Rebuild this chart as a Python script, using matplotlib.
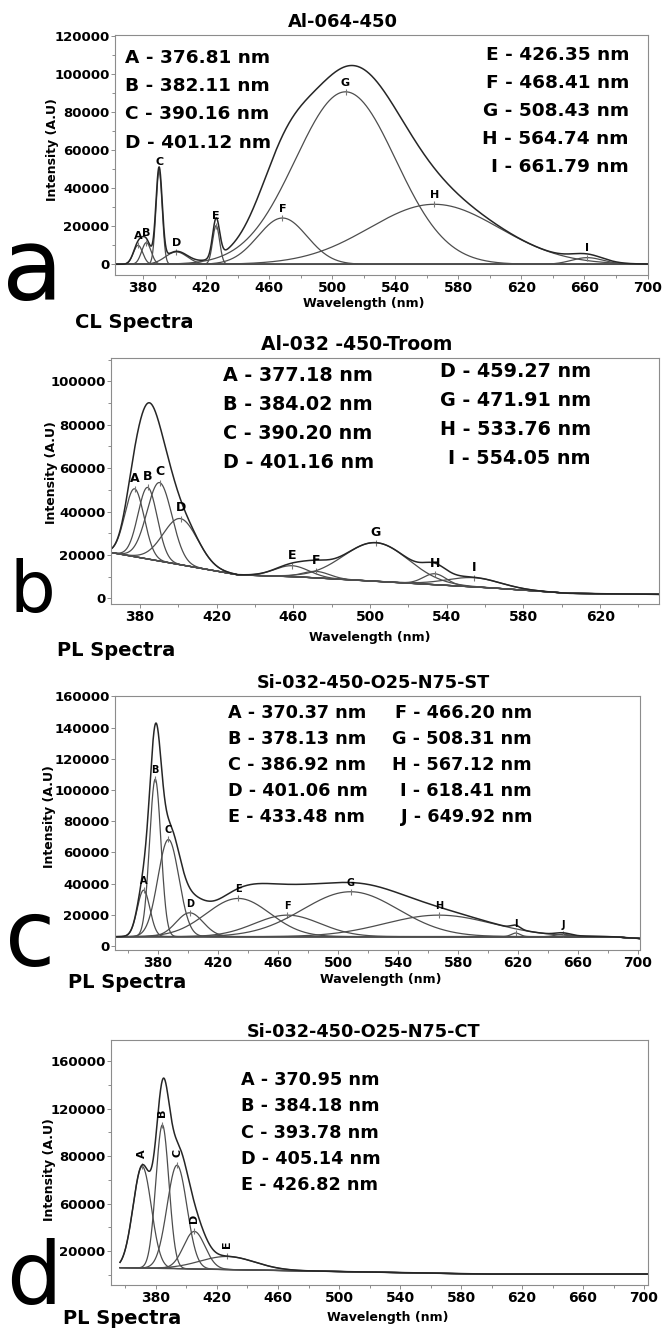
import matplotlib

matplotlib.use("Agg")
import matplotlib.pyplot as plt
import numpy as np
from matplotlib.ticker import FixedFormatter, FixedLocator, MultipleLocator

plt.rcParams["font.family"] = ["DejaVu Sans"]
plt.rcParams["font.weight"] = "bold"

W, H = 664, 1328

# ---- panel a : CL spectrum, Al-064-450
a_letters = list("ABCDEFGHI")
a_centers = [376.81, 382.11, 390.16, 401.12, 426.35, 468.41, 508.43, 564.74, 661.79]
a_heights = [10000, 11400, 48800, 6500, 20300, 24300, 90500, 31500, 3500]
a_fwhm = [7.0, 7.0, 4.7, 16.5, 5.2, 36.7, 75.0, 97.0, 23.5]
a_base_x = [362.2, 700.3]
a_base_y = [0, 0]
a_list_left = ["A - 376.81 nm", "B - 382.11 nm", "C - 390.16 nm", "D - 401.12 nm"]
a_list_right = ["E - 426.35 nm", "F - 468.41 nm", "G - 508.43 nm", "H - 564.74 nm", "I - 661.79 nm"]

# ---- panel b : PL spectrum, Al-032-450-Troom
b_letters = list("ABCDEFGHI")
b_centers = [377.18, 384.02, 390.20, 401.16, 459.27, 471.91, 503.0, 533.76, 554.05]
b_heights = [31300, 33000, 36200, 21300, 5000, 3000, 17800, 5000, 4200]
b_fwhm = [11.8, 11.8, 15.3, 21.2, 21.2, 16.5, 40.0, 14.1, 33.0]
b_base_x = [364.9, 431, 460, 520, 560, 603, 650.7]
b_base_y = [21100, 10800, 10000, 7000, 5000, 2300, 1800]
b_list_left = ["A - 377.18 nm", "B - 384.02 nm", "C - 390.20 nm", "D - 401.16 nm"]
b_list_right = ["D - 459.27 nm", "G - 471.91 nm", "H - 533.76 nm", "I - 554.05 nm"]

# ---- panel c : PL spectrum, Si-032-450-O25-N75-ST
c_letters = list("ABCDEFGHIJ")
c_centers = [370.37, 378.13, 386.92, 401.06, 433.48, 466.20, 508.31, 567.12, 618.41, 649.92]
c_heights = [29800, 101000, 62300, 15300, 24500, 13800, 28800, 13800, 2300, 1500]
c_fwhm = [9.9, 8.9, 16.5, 21.2, 50.0, 51.8, 75.0, 84.8, 7.1, 11.8]
c_base_x = [351.3, 681, 701.3]
c_base_y = [6000, 6000, 4800]
c_list_left = ["A - 370.37 nm", "B - 378.13 nm", "C - 386.92 nm", "D - 401.06 nm", "E - 433.48 nm"]
c_list_right = ["F - 466.20 nm", "G - 508.31 nm", "H - 567.12 nm", "I - 618.41 nm", "J - 649.92 nm"]

# ---- panel d : PL spectrum, Si-032-450-O25-N75-CT
d_letters = list("ABCDE")
d_centers = [370.95, 384.18, 393.78, 405.14, 426.82]
d_heights = [85600, 120800, 87100, 31600, 11000]
d_fwhm = [14.1, 10.1, 15.3, 16.5, 42.4]
d_base_x = [356.4, 543, 592, 702.6]
d_base_y = [-14000, -18200, -19400, -19400]
d_list = ["A - 370.95 nm", "B - 384.18 nm", "C - 393.78 nm", "D - 405.14 nm", "E - 426.82 nm"]
d_ytick_pos = [160000, 120000, 80000, 40000, 0]
d_ytick_labels = ["160000", "120000", "80000", "60000", "20000"]

LINE = "#262626"
COMP = "#4d4d4d"
FRAME = "#8c8c8c"


def gauss(x, center, height, fwhm):
    sigma = fwhm / 2.3548
    return height * np.exp(-((x - center) ** 2) / (2 * sigma ** 2))


def add_axes_px(fig, left, top, right, bottom):
    return fig.add_axes([left / W, 1 - bottom / H, (right - left) / W, (bottom - top) / H])


def fig_text(fig, x, y, s, **kw):
    fig.text(x / W, 1 - y / H, s, **kw)


def draw_panel(ax, base_x, base_y, centers, heights, fwhm, letters, label_size=8, rotate=False):
    x = np.linspace(base_x[0], base_x[-1], 4000)
    base = np.interp(x, base_x, base_y)
    total = base.copy()
    for c, h, w, letter in zip(centers, heights, fwhm, letters):
        g = gauss(x, c, h, w)
        total += g
        ax.plot(x, base + g, color=COMP, lw=0.9)
        peak = np.interp(c, base_x, base_y) + h
        ax.plot([c], [peak], marker="|", ms=5, mew=0.8, color="#777777", ls="none")
        if rotate:
            ax.annotate(letter, (c, peak), xytext=(0, 6), textcoords="offset points",
                        ha="center", va="bottom", rotation=90, fontsize=label_size)
        else:
            ax.annotate(letter, (c, peak), xytext=(0, 3), textcoords="offset points",
                        ha="center", va="bottom", fontsize=label_size)
    ax.plot(x, base, color=COMP, lw=1.0)
    ax.plot(x, total, color=LINE, lw=1.1)


def style_axes(ax, xlim, ylim, xticks, ytick_step=None, ytick_minor=None):
    ax.set_xlim(*xlim)
    ax.set_ylim(*ylim)
    ax.xaxis.set_major_locator(FixedLocator(xticks))
    ax.xaxis.set_minor_locator(MultipleLocator(20))
    if ytick_step:
        ax.yaxis.set_major_locator(MultipleLocator(ytick_step))
    if ytick_minor:
        ax.yaxis.set_minor_locator(MultipleLocator(ytick_minor))
    for sp in ax.spines.values():
        sp.set_color(FRAME)
        sp.set_linewidth(0.8)
    ax.tick_params(which="both", direction="out", color=FRAME, width=0.7)
    ax.tick_params(which="major", length=3)
    ax.tick_params(which="minor", length=2)
    ax.tick_params(axis="x", labelsize=10, pad=1.5)
    ax.tick_params(axis="y", labelsize=9.5, pad=1)


fig = plt.figure(figsize=(W / 100, H / 100), dpi=100)

# panel a
ax = add_axes_px(fig, 115, 35, 648, 275)
draw_panel(ax, a_base_x, a_base_y, a_centers, a_heights, a_fwhm, a_letters, label_size=8)
style_axes(ax, (362.2, 700.3), (-5600, 120300), range(380, 701, 40), 20000, 10000)
for i, s in enumerate(a_list_left):
    fig_text(fig, 125, 58 + i * 28.2, s, fontsize=13.3, va="center", ha="left")
for i, s in enumerate(a_list_right):
    fig_text(fig, 629, 55 + i * 27.9, s, fontsize=13.3, va="center", ha="right")
fig_text(fig, 343, 22, "Al-064-450", fontsize=13, ha="center", va="center")
fig_text(fig, 364, 303, "Wavelength (nm)", fontsize=9, ha="center", va="center")
fig_text(fig, 53, 150, "Intensity (A.U)", fontsize=9, ha="center", va="center", rotation=90)
fig_text(fig, 75, 322, "CL Spectra", fontsize=14, ha="left", va="center")
fig_text(fig, 2, 300, "a", fontsize=72, fontweight="normal", ha="left", va="baseline")

# panel b
ax = add_axes_px(fig, 111, 358, 659, 604)
draw_panel(ax, b_base_x, b_base_y, b_centers, b_heights, b_fwhm, b_letters, label_size=9)
style_axes(ax, (364.9, 650.7), (-2630, 110800), range(380, 621, 40), 20000, 10000)
for i, s in enumerate(b_list_left):
    fig_text(fig, 223, 375 + i * 29.1, s, fontsize=13.8, va="center", ha="left")
for i, s in enumerate(b_list_right):
    fig_text(fig, 591, 372 + i * 28.9, s, fontsize=13.8, va="center", ha="right")
fig_text(fig, 357, 345, "Al-032 -450-Troom", fontsize=13.5, ha="center", va="center")
fig_text(fig, 370, 637, "Wavelength (nm)", fontsize=9, ha="center", va="center")
fig_text(fig, 51, 473, "Intensity (A.U)", fontsize=9, ha="center", va="center", rotation=90)
fig_text(fig, 57, 651, "PL Spectra", fontsize=14, ha="left", va="center")
fig_text(fig, 10, 612, "b", fontsize=52, fontweight="normal", ha="left", va="baseline")

# panel c
ax = add_axes_px(fig, 115, 696, 640, 950)
draw_panel(ax, c_base_x, c_base_y, c_centers, c_heights, c_fwhm, c_letters, label_size=7)
style_axes(ax, (351.3, 701.3), (-2560, 160300), range(380, 701, 40), 20000, None)
for i, s in enumerate(c_list_left):
    fig_text(fig, 228, 713 + i * 26, s, fontsize=12.7, va="center", ha="left")
for i, s in enumerate(c_list_right):
    fig_text(fig, 532, 713 + i * 26, s, fontsize=12.7, va="center", ha="right")
fig_text(fig, 373, 683, "Si-032-450-O25-N75-ST", fontsize=12.7, ha="center", va="center")
fig_text(fig, 381, 980, "Wavelength (nm)", fontsize=9, ha="center", va="center")
fig_text(fig, 50, 817, "Intensity (A.U)", fontsize=9, ha="center", va="center", rotation=90)
fig_text(fig, 68, 982, "PL Spectra", fontsize=14, ha="left", va="center")
fig_text(fig, 5, 966, "c", fontsize=66, fontweight="normal", ha="left", va="baseline")

# panel d
ax = add_axes_px(fig, 111, 1040, 648, 1285)
draw_panel(ax, d_base_x, d_base_y, d_centers, d_heights, d_fwhm, d_letters, label_size=8, rotate=True)
style_axes(ax, (350.5, 702.6), (-28600, 177700), range(380, 701, 40), None, 20000)
ax.yaxis.set_major_locator(FixedLocator(d_ytick_pos))
ax.yaxis.set_major_formatter(FixedFormatter(d_ytick_labels))
for i, s in enumerate(d_list):
    fig_text(fig, 241, 1080 + i * 26.3, s, fontsize=12.7, va="center", ha="left")
fig_text(fig, 364, 1032, "Si-032-450-O25-N75-CT", fontsize=12.7, ha="center", va="center")
fig_text(fig, 388, 1318, "Wavelength (nm)", fontsize=9, ha="center", va="center")
fig_text(fig, 50, 1170, "Intensity (A.U)", fontsize=9, ha="center", va="center", rotation=90)
fig_text(fig, 63, 1319, "PL Spectra", fontsize=14, ha="left", va="center")
fig_text(fig, 6, 1304, "d", fontsize=63, fontweight="normal", ha="left", va="baseline")

fig.savefig("out.png", dpi=100, facecolor="white")
